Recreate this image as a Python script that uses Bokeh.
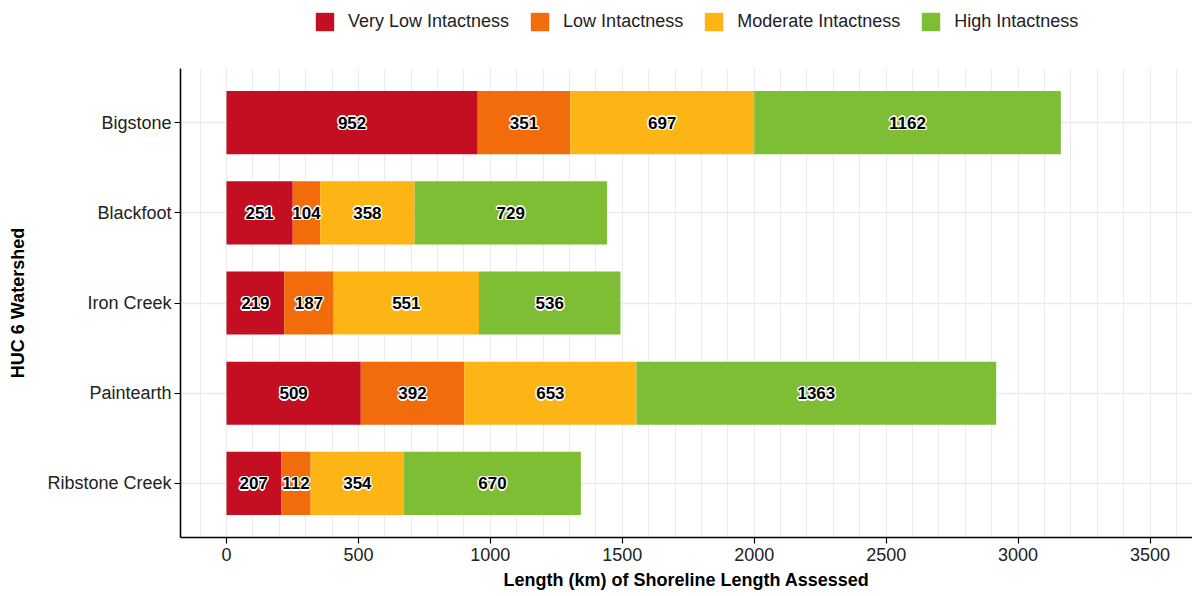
from bokeh.plotting import figure
from bokeh.layouts import column
from bokeh.models import ColumnDataSource, Legend, LegendItem, SingleIntervalTicker, FixedTicker, Range1d
from bokeh.core.properties import value
from bokeh.embed import file_html
from bokeh.resources import INLINE

watersheds = ["Bigstone", "Blackfoot", "Iron Creek", "Paintearth", "Ribstone Creek"]
very_low = [952, 251, 219, 509, 207]
low = [351, 104, 187, 392, 112]
moderate = [697, 358, 551, 653, 354]
high = [1162, 729, 536, 1363, 670]
series_names = ["Very Low Intactness", "Low Intactness", "Moderate Intactness", "High Intactness"]
series_values = [very_low, low, moderate, high]
colors = ["#C40F23", "#F36C0C", "#FDB515", "#7DBE35"]

FONT = "Liberation Sans"
n = len(watersheds)
ypos = [n - i for i in range(n)]

# ---- main chart ----
p = figure(frame_width=1012, frame_height=469, output_backend="svg", toolbar_location=None,
           x_range=Range1d(-174.3, 3661), y_range=Range1d(0.4, n + 0.6),
           min_border_left=180, min_border_right=0, min_border_top=0, min_border_bottom=57)
p.outline_line_color = None
p.background_fill_color = "white"

# ---- legend strip ----
lf = figure(width=1192, height=68, output_backend="svg", toolbar_location=None,
            x_axis_type=None, y_axis_type=None, x_range=Range1d(0, 1), y_range=Range1d(0, 1),
            min_border=0)
lf.outline_line_color = None

legend_items = []
cum = [0] * n
label_x, label_y, label_t = [], [], []
for name, vals, col in zip(series_names, series_values, colors):
    left = cum[:]
    right = [a + b for a, b in zip(cum, vals)]
    src = ColumnDataSource(dict(y=ypos, left=left, right=right))
    p.hbar(y="y", left="left", right="right", height=0.7, source=src,
           fill_color=col, line_color=None)
    lr = lf.hbar(y="y", left="left", right="right", height=0.7, source=src,
                 fill_color=col, line_color=None, visible=False)
    legend_items.append(LegendItem(label=name, renderers=[lr]))
    for i in range(n):
        label_x.append((left[i] + right[i]) / 2)
        label_y.append(ypos[i])
        label_t.append(str(vals[i]))
    cum = right

lsrc = ColumnDataSource(dict(x=label_x, y=label_y, t=label_t))
# white halo underneath, then black bold labels
for dx, dy in [(-1.5, 0), (1.5, 0), (0, -1.5), (0, 1.5), (-1, -1), (1, 1), (-1, 1), (1, -1)]:
    p.text(x="x", y="y", text="t", source=lsrc, text_align="center", text_baseline="middle",
           text_font=value(FONT), text_font_style="bold", text_font_size="17px",
           text_color="white", x_offset=dx, y_offset=dy)
p.text(x="x", y="y", text="t", source=lsrc, text_align="center", text_baseline="middle",
       text_font=value(FONT), text_font_style="bold", text_font_size="17px",
       text_color="black")

# axes
p.xaxis.ticker = SingleIntervalTicker(interval=500, num_minor_ticks=5)
p.yaxis.ticker = FixedTicker(ticks=ypos)
p.yaxis.major_label_overrides = {y: w for y, w in zip(ypos, watersheds)}
for ax in (p.xaxis[0], p.yaxis[0]):
    ax.axis_line_color = "black"
    ax.axis_line_width = 1.6
    ax.major_tick_line_color = "black"
    ax.major_tick_line_width = 1.2
    ax.major_tick_out = 6
    ax.major_tick_in = 0
    ax.minor_tick_line_color = None
    ax.major_label_text_font = FONT
    ax.major_label_text_font_size = "18px"
    ax.major_label_text_color = "#222222"
    ax.axis_label_text_font = FONT
    ax.axis_label_text_font_size = "18px"
    ax.axis_label_text_font_style = "bold"
    ax.axis_label_text_color = "black"
p.xaxis.axis_label = "Length (km) of Shoreline Length Assessed"
p.yaxis.axis_label = "HUC 6 Watershed"
p.xaxis.major_label_standoff = 4
p.xaxis.axis_label_standoff = 6
p.yaxis.major_label_standoff = 3
p.yaxis.axis_label_standoff = 16

p.xgrid.grid_line_color = "#EBEBEB"
p.xgrid.grid_line_width = 1
p.xgrid.minor_grid_line_color = "#EBEBEB"
p.xgrid.minor_grid_line_width = 1
p.ygrid.grid_line_color = "#EBEBEB"
p.ygrid.grid_line_width = 1.5

legend = Legend(items=legend_items, orientation="horizontal", location=(133, 35),
                glyph_width=23, glyph_height=23, label_standoff=12, spacing=19,
                label_text_font=FONT, label_text_font_size="18px", label_text_color="#222222",
                border_line_color=None, background_fill_alpha=0, padding=0, margin=0,
                inactive_fill_alpha=0)
lf.add_layout(legend, "center")

layout = column(lf, p, spacing=0)
open("out.html", "w").write(file_html(layout, INLINE))
